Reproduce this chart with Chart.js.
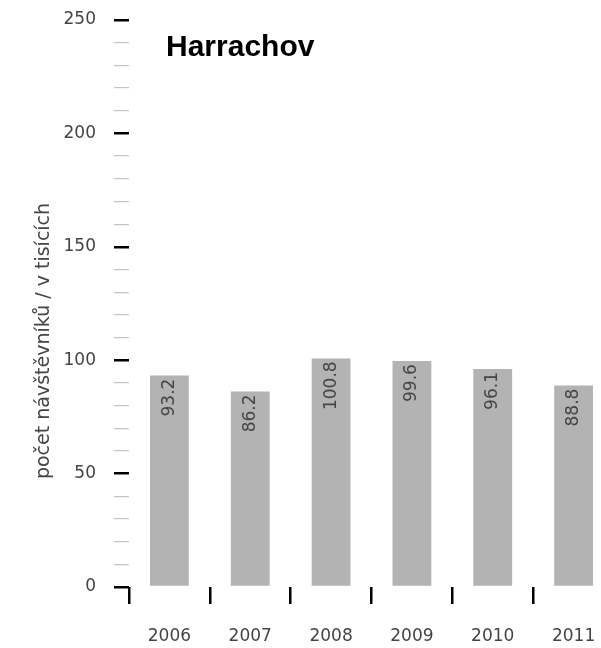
<!DOCTYPE html>
<html>
<head>
<meta charset="utf-8">
<script src="https://cdn.jsdelivr.net/npm/chart.js@4/dist/chart.umd.min.js"></script>
<style>
  html, body { margin: 0; padding: 0; overflow: hidden; background: #fff; }
  #wrap { width: 614px; height: 648px; }
</style>
</head>
<body>
<div id="wrap"><canvas id="chartHarrachov"></canvas></div>
<script>
const roky = ['2006', '2007', '2008', '2009', '2010', '2011'];
const navstevnici = [93.2, 86.2, 100.8, 99.6, 96.1, 88.8];
const yMin = 0;
const yMax = 250;
const yKrok = 10;
const yPopisKazdych = 50;

const nazev = 'Harrachov';
const osaY = 'počet návštěvníků / v tisících';

const pismo = '"DejaVu Sans"';
const barvaTextu = '#444';

// popisky hodnot uvnitř sloupců + nadpis + popis osy
const popisky = {
  id: 'popisky',
  afterDatasetsDraw(chart) {
    const ctx = chart.ctx;
    const meta = chart.getDatasetMeta(0);
    ctx.save();
    ctx.fillStyle = barvaTextu;
    ctx.font = '17px ' + pismo;
    ctx.textAlign = 'right';
    ctx.textBaseline = 'middle';
    meta.data.forEach((bar, i) => {
      ctx.save();
      ctx.translate(bar.x, bar.y + 3);
      ctx.rotate(-Math.PI / 2);
      ctx.fillText(navstevnici[i].toFixed(1), 0, 0);
      ctx.restore();
    });
    ctx.restore();
  },
  afterDraw(chart) {
    const ctx = chart.ctx;
    ctx.save();
    ctx.fillStyle = '#000';
    ctx.font = 'bold 30px "Liberation Sans"';
    ctx.textAlign = 'left';
    ctx.textBaseline = 'alphabetic';
    ctx.fillText(nazev, 166, 56);

    ctx.fillStyle = barvaTextu;
    ctx.font = '19px ' + pismo;
    ctx.textAlign = 'center';
    ctx.textBaseline = 'middle';
    ctx.translate(44, 341);
    ctx.rotate(-Math.PI / 2);
    ctx.fillText(osaY, 0, 0);
    ctx.restore();
  }
};

new Chart(document.getElementById('chartHarrachov'), {
  type: 'bar',
  data: {
    labels: roky,
    datasets: [{
      data: navstevnici,
      backgroundColor: '#b3b3b3',
      borderWidth: 0,
      barPercentage: 0.48,
      categoryPercentage: 1
    }]
  },
  options: {
    responsive: true,
    maintainAspectRatio: false,
    animation: false,
    layout: { padding: { top: 20, right: 0, left: 0, bottom: 0 } },
    plugins: {
      legend: { display: false },
      tooltip: { enabled: false }
    },
    scales: {
      x: {
        border: { display: false },
        grid: {
          display: true,
          offset: true,
          drawOnChartArea: false,
          drawTicks: true,
          tickLength: 17,
          color: '#000',
          lineWidth: 2.5
        },
        ticks: {
          color: barvaTextu,
          font: { family: 'DejaVu Sans', size: 17 },
          padding: 22,
          maxRotation: 0
        },
        afterFit(scale) {
          scale.height = 61;
          scale.paddingLeft = 0;
          scale.paddingRight = 0;
        }
      },
      y: {
        min: yMin,
        max: yMax,
        border: { display: false },
        grid: {
          drawOnChartArea: false,
          drawTicks: true,
          tickLength: 15,
          color: (c) => (c.tick && c.tick.value % yPopisKazdych === 0) ? '#000' : '#c4c4c4',
          lineWidth: (c) => (c.tick && c.tick.value % yPopisKazdych === 0) ? 2.5 : 1.2
        },
        ticks: {
          stepSize: yKrok,
          autoSkip: false,
          color: barvaTextu,
          font: { family: 'DejaVu Sans', size: 17 },
          padding: 18,
          callback: (v) => (v % yPopisKazdych === 0 ? v : '')
        },
        afterFit(scale) {
          scale.width = 129;
          scale.paddingTop = 0;
          scale.paddingBottom = 0;
        }
      }
    }
  },
  plugins: [popisky]
});
</script>
</body>
</html>
